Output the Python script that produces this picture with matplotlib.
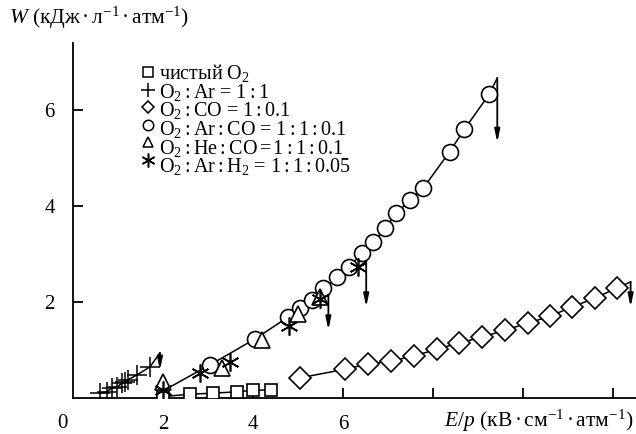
import matplotlib
matplotlib.use("Agg")
import matplotlib.pyplot as plt
from matplotlib.lines import Line2D

plt.rcParams['font.family'] = ['Liberation Serif']
plt.rcParams['mathtext.fontset'] = 'custom'
plt.rcParams['mathtext.rm'] = 'Liberation Serif'
plt.rcParams['mathtext.it'] = 'Liberation Serif:italic'

# ---- data ----
sq_x = [2.0, 2.6, 3.1, 3.65, 4.0, 4.4]
sq_y = [0.03, 0.08, 0.1, 0.13, 0.16, 0.17]

plus_x = [0.6, 0.75, 0.87, 0.98, 1.09, 1.16, 1.22, 1.42, 1.71]
plus_y = [0.1, 0.13, 0.21, 0.23, 0.31, 0.33, 0.38, 0.48, 0.65]

dia_x = [5.04, 6.04, 6.56, 7.07, 7.58, 8.09, 8.58, 9.09, 9.6, 10.11, 10.6, 11.09, 11.58, 12.07]
dia_y = [0.42, 0.6, 0.71, 0.77, 0.88, 1.02, 1.15, 1.27, 1.42, 1.56, 1.71, 1.9, 2.08, 2.29]

circ_x = [2.0, 3.04, 4.04, 4.78, 5.04, 5.31, 5.56, 5.87, 6.13, 6.42, 6.67, 6.93, 7.18,
          7.49, 7.78, 8.36, 8.69, 9.24]
circ_y = [0.15, 0.69, 1.23, 1.69, 1.88, 2.04, 2.29, 2.52, 2.73, 3.02, 3.25, 3.54, 3.85,
          4.13, 4.38, 5.13, 5.6, 6.33]

tri_x = [2.0, 3.31, 4.2, 5.0, 5.49]
tri_y = [0.33, 0.63, 1.21, 1.75, 2.1]

star_x = [2.0, 2.82, 3.49, 4.8, 5.49, 6.33]
star_y = [0.17, 0.52, 0.75, 1.5, 2.06, 2.73]

# breakdown arrows: (x, top, bottom), one per series
arrow_plus = (1.93, 0.94, 0.58)
arrow_dia = (12.38, 2.42, 1.9)
arrow_circ = (9.42, 6.67, 5.33)
arrow_tri = (5.67, 2.15, 1.42)
arrow_star = (6.51, 2.85, 1.9)

c = r'$\:$:$\:$'
legend_labels = ['чистый O$_2$',
                 f'O$_2${c}Ar = 1{c}1',
                 f'O$_2${c}CO = 1{c}0.1',
                 f'O$_2${c}Ar{c}CO = 1{c}1{c}0.1',
                 f'O$_2${c}He{c}CO$\\,$=$\\,$1{c}1{c}0.1',
                 f'O$_2${c}Ar{c}H$_2$ = 1{c}1{c}0.05']

y_ticks = [2, 4, 6]
x_ticks = [2, 4, 6, 8, 10, 12]
x_ticklabels = ['2', '4', '6', '', '', '']

# ---- figure ----
W, H = 636, 434
fig = plt.figure(figsize=(W/100, H/100), dpi=100)
ax = fig.add_axes([73/W, 36/H, 563/W, 355/H])
ax.set_xlim(0, 12.5)
ax.set_ylim(0, 7.4)

lw = 1.1

def arrow(a):
    x, top, bot = a
    ax.annotate('', xy=(x, bot), xytext=(x, top),
                arrowprops=dict(arrowstyle='-|>,head_length=0.75,head_width=0.16',
                                color='black', lw=1.3, shrinkA=0, shrinkB=0))

# lines (drawn first) and arrows
ax.plot(circ_x + [arrow_circ[0]], circ_y + [arrow_circ[1]], color='black', lw=lw, zorder=2)
ax.plot(dia_x + [arrow_dia[0]], dia_y + [arrow_dia[1]], color='black', lw=lw, zorder=2)
ax.plot(sq_x, sq_y, color='black', lw=lw, zorder=2)
ax.plot(plus_x + [arrow_plus[0]], plus_y + [arrow_plus[1]], color='black', lw=lw, zorder=2)
ax.plot([tri_x[-1], arrow_tri[0]], [tri_y[-1], arrow_tri[1]], color='black', lw=lw, zorder=2)
ax.plot([star_x[-1], arrow_star[0]], [star_y[-1], arrow_star[1]], color='black', lw=lw, zorder=2)
for a in (arrow_plus, arrow_dia, arrow_circ, arrow_tri, arrow_star):
    arrow(a)

# markers
ax.plot(sq_x, sq_y, 's', ms=9, mfc='white', mec='black', mew=1.2, zorder=3)
ax.plot(plus_x, plus_y, '+', ms=14, mec='black', mew=1.1, zorder=3)
ax.plot(dia_x, dia_y, 'D', ms=11, mfc='white', mec='black', mew=1.2, zorder=3)
ax.plot(circ_x[1:], circ_y[1:], 'o', ms=11.5, mfc='white', mec='black', mew=1.2, zorder=3)
ax.plot(tri_x, tri_y, '^', ms=11, mfc='white', mec='black', mew=1.2, zorder=4)
ax.plot(star_x, star_y, marker=(6, 2, 0), ls='none', ms=13, mec='black', mew=1.2, zorder=5)

# axes style
for s in ('top', 'right'):
    ax.spines[s].set_visible(False)
for s in ('left', 'bottom'):
    ax.spines[s].set_linewidth(1.3)
ax.set_yticks(y_ticks)
ax.set_xticks(x_ticks)
ax.set_xticklabels(x_ticklabels)
ax.tick_params(direction='in', length=7, width=1.3, labelsize=15, pad=12)
ax.tick_params(axis='y', pad=13)

fig.text(62/W, 1 - 424/H, '0', fontsize=15, ha='center', va='center')
fig.text(9/W, 1 - 18/H, r'$W$ (кДж$\,$·$\,$л$^{-1}\,$·$\,$атм$^{-1}$)', fontsize=15.5,
         ha='left', va='center')
fig.text(633/W, 1 - 421/H, r'$E/p$ (кВ$\,$·$\,$см$^{-1}\,$·$\,$атм$^{-1}$)', fontsize=15.5,
         ha='right', va='center')

# legend: one block of text lines plus a column of markers
leg_markers = [
    dict(marker='s', ms=7, mfc='white'),
    dict(marker='+', ms=10),
    dict(marker='D', ms=6.5, mfc='white'),
    dict(marker='o', ms=7.5, mfc='white'),
    dict(marker='^', ms=7.5, mfc='white'),
    dict(marker=(6, 2, 0), ms=10),
]
row0, pitch = 72, 17.6
for i, m in enumerate(leg_markers):
    yy = 1 - (row0 + pitch * i) / H
    fig.add_artist(Line2D([148/W], [yy], ls='none', mec='black', mew=1.1,
                          transform=fig.transFigure, **m))
fig.text(159/W, 1 - 62/H, '\n'.join(legend_labels), fontsize=14.5, ha='left', va='top',
         linespacing=0.855)

fig.savefig('out.png', dpi=100)
